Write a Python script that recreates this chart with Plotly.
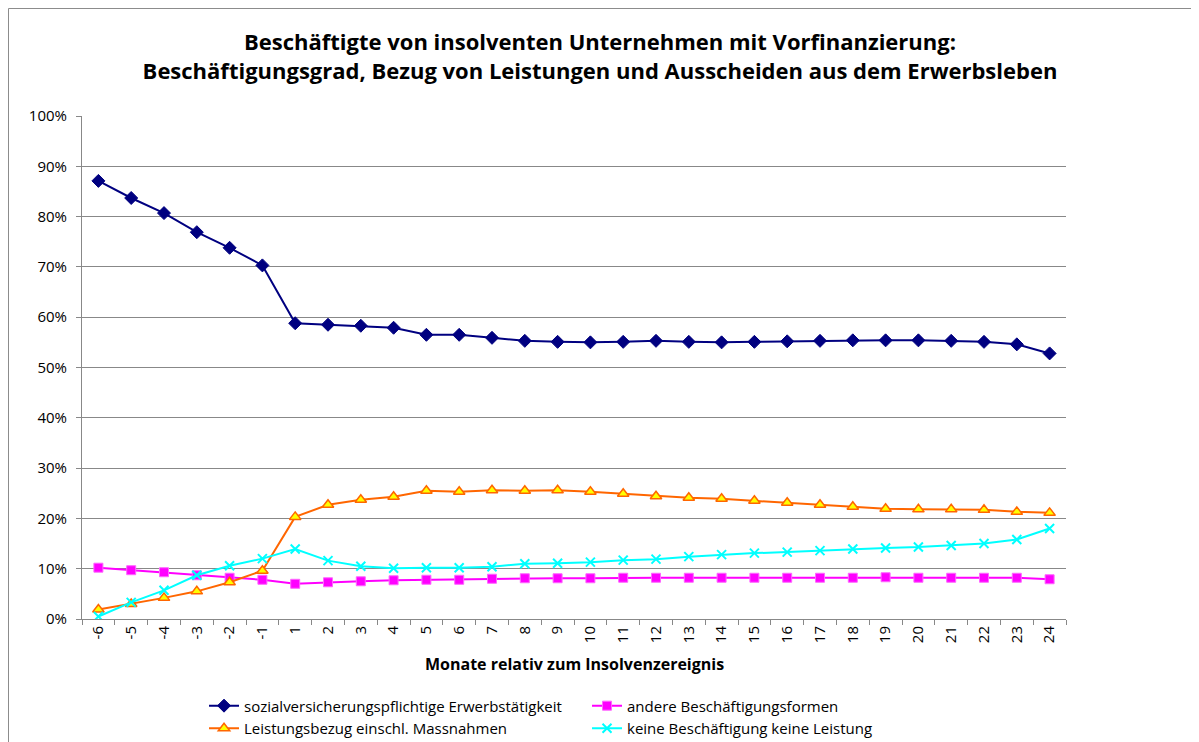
import plotly.graph_objects as go

months = ["-6", "-5", "-4", "-3", "-2", "-1", "1", "2", "3", "4", "5", "6", "7", "8", "9",
          "10", "11", "12", "13", "14", "15", "16", "17", "18", "19", "20", "21", "22", "23", "24"]

sozial = [87.1, 83.7, 80.7, 76.9, 73.8, 70.3, 58.8, 58.5, 58.3, 57.9, 56.5, 56.5, 55.9, 55.3, 55.1,
          55.0, 55.1, 55.3, 55.1, 55.0, 55.1, 55.2, 55.3, 55.4, 55.4, 55.4, 55.3, 55.1, 54.6, 52.8]
andere = [10.2, 9.7, 9.3, 8.7, 8.2, 7.8, 7.0, 7.3, 7.5, 7.7, 7.8, 7.8, 8.0, 8.1, 8.1,
          8.1, 8.2, 8.2, 8.2, 8.2, 8.2, 8.2, 8.2, 8.2, 8.3, 8.2, 8.2, 8.2, 8.2, 7.9]
leistung = [1.9, 3.0, 4.2, 5.5, 7.3, 9.6, 20.3, 22.7, 23.7, 24.3, 25.5, 25.3, 25.6, 25.5, 25.6,
            25.3, 24.9, 24.4, 24.1, 23.9, 23.5, 23.1, 22.7, 22.3, 21.9, 21.8, 21.8, 21.7, 21.3, 21.1]
keine = [0.5, 3.3, 5.7, 8.7, 10.6, 12.0, 13.9, 11.6, 10.5, 10.1, 10.2, 10.2, 10.4, 11.0, 11.1,
         11.3, 11.7, 11.9, 12.4, 12.8, 13.1, 13.3, 13.6, 13.9, 14.1, 14.3, 14.6, 15.0, 15.8, 18.0]

y_ticks = [0, 10, 20, 30, 40, 50, 60, 70, 80, 90, 100]
y_ticklabels = [f"{v}%" for v in y_ticks]

title_line1 = "Beschäftigte von insolventen Unternehmen mit Vorfinanzierung:"
title_line2 = "Beschäftigungsgrad, Bezug von Leistungen und Ausscheiden aus dem Erwerbsleben"
x_title = "Monate relativ zum Insolvenzereignis"

FONT = "'Open Sans', Lato, sans-serif"

# page body has an 8px margin: figure is placed at (8, 8)
W, H = 1191, 734
L, T, PW, PH = 74, 108, 984, 503

fig = go.Figure()
fig.add_trace(go.Scatter(
    x=months, y=sozial, mode="lines+markers",
    name="sozialversicherungspflichtige Erwerbstätigkeit",
    line=dict(color="#000080", width=2),
    marker=dict(symbol="diamond", size=10, color="#000080", line=dict(color="#000080", width=1)),
))
fig.add_trace(go.Scatter(
    x=months, y=andere, mode="lines+markers",
    name="andere Beschäftigungsformen",
    line=dict(color="#FF00FF", width=2),
    marker=dict(symbol="square", size=9, color="#FF00FF", line=dict(color="#FF66FF", width=1)),
))
fig.add_trace(go.Scatter(
    x=months, y=leistung, mode="lines+markers",
    name="Leistungsbezug einschl. Massnahmen",
    line=dict(color="#FF6600", width=2),
    marker=dict(symbol="triangle-up", size=10, color="#FFFF00", line=dict(color="#FF6600", width=1.5)),
))
fig.add_trace(go.Scatter(
    x=months, y=keine, mode="lines+markers",
    name="keine Beschäftigung keine Leistung",
    line=dict(color="#00FFFF", width=2),
    marker=dict(symbol="x-thin", size=9, color="#00FFFF", line=dict(color="#00FFFF", width=2)),
))

fig.update_layout(
    width=W, height=H,
    margin=dict(l=L, r=W - L - PW, t=T, b=H - T - PH, autoexpand=False),
    paper_bgcolor="white", plot_bgcolor="white",
    font=dict(family=FONT, size=14, color="#000000"),
    title=dict(
        text=f"<b>{title_line1}</b><br><b>{title_line2}</b>",
        x=(600 - 8) / W, xref="container", xanchor="center",
        y=1 - 42 / H, yref="container", yanchor="middle",
        font=dict(family=FONT, size=22, color="#000000"),
    ),
    showlegend=True,
    legend=dict(
        orientation="h", x=0.124, xanchor="left", y=-0.14, yanchor="top",
        entrywidth=338, entrywidthmode="pixels",
        font=dict(family=FONT, size=15, color="#000000"),
        bgcolor="rgba(0,0,0,0)", tracegroupgap=0,
    ),
    xaxis=dict(
        type="category", categoryorder="array", categoryarray=months,
        range=[-0.5, len(months) - 0.5],
        tickson="boundaries", ticks="outside", ticklen=5, tickcolor="#888888",
        tickangle=-90, showgrid=False, zeroline=False,
        showline=True, linecolor="#888888", linewidth=1,
        tickfont=dict(family=FONT, size=15, color="#000000"),
    ),
    yaxis=dict(
        range=[0, 100], tickmode="array", tickvals=y_ticks, ticktext=y_ticklabels,
        ticks="outside", ticklen=5, tickcolor="#888888", ticklabelstandoff=6,
        showgrid=True, gridcolor="#888888", gridwidth=1, zeroline=False,
        showline=True, linecolor="#888888", linewidth=1,
        tickfont=dict(family=FONT, size=15, color="#000000"),
    ),
    annotations=[dict(
        text=f"<b>{x_title}</b>", xref="paper", yref="paper",
        x=0.5, y=-(664 - 619) / PH, xanchor="center", yanchor="middle",
        showarrow=False, font=dict(family=FONT, size=16, color="#000000"),
    )],
    shapes=[dict(
        type="rect", xref="paper", yref="paper",
        x0=(0.5 - L) / PW, x1=1.3, y0=-0.4, y1=(T + PH - 0.5) / PH,
        line=dict(color="#8c8c8c", width=1), fillcolor="rgba(0,0,0,0)", layer="below",
    )],
)

fig.write_html("out.html")
